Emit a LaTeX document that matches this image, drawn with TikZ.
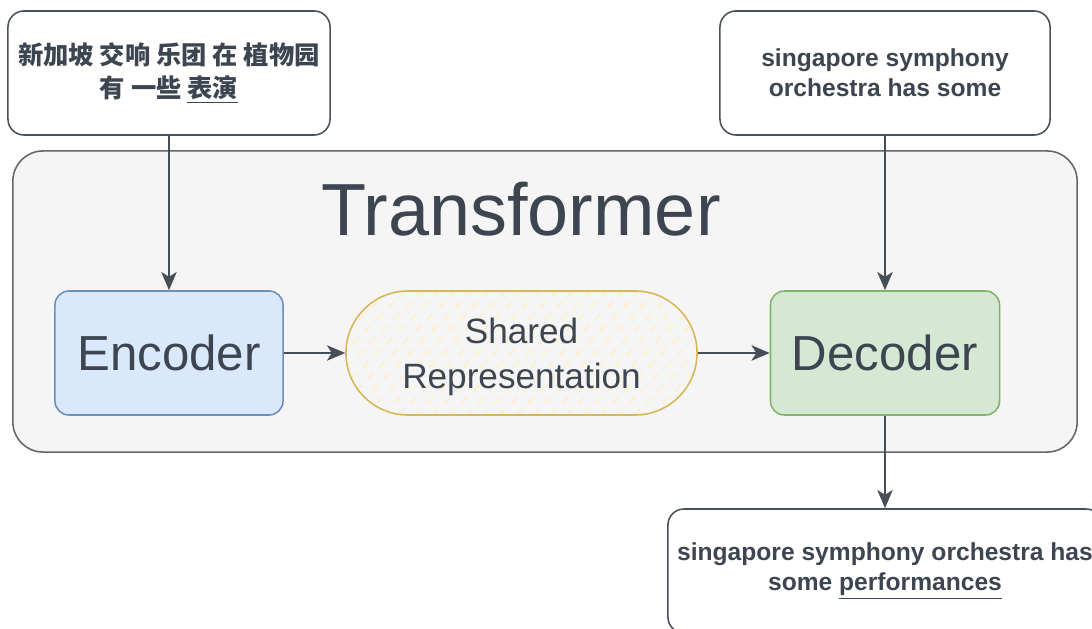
\documentclass[tikz,border=0pt]{standalone}
\usepackage{fontspec}
\setmainfont{Liberation Sans}
\newfontfamily\cjk{Noto Sans CJK SC}
\usetikzlibrary{arrows.meta}

\definecolor{ink}{HTML}{3C4550}
\definecolor{edge}{HTML}{464F58}
\definecolor{boxline}{HTML}{4A5159}
\definecolor{outerfill}{HTML}{F5F5F5}
\definecolor{outerline}{HTML}{666666}
\definecolor{encfill}{HTML}{DAE8FC}
\definecolor{encline}{HTML}{6C8EBF}
\definecolor{decfill}{HTML}{D5E8D4}
\definecolor{decline}{HTML}{82B366}
\definecolor{shline}{HTML}{D6B656}
\definecolor{hatchc}{HTML}{FFF0C4}

\begin{document}
\begin{tikzpicture}[x=0.025cm,y=-0.025cm,
	txtbox/.style={draw=boxline,line width=1.1pt,rounded corners=0.4cm,minimum height=3.1cm,align=center,text=ink,font=\fontsize{17.5}{21.3}\selectfont\bfseries},
	block/.style={line width=1.1pt,rounded corners=0.35cm,minimum width=5.7cm,minimum height=3.1cm,text=ink,font=\fontsize{35}{40}\selectfont},
	hatchfill/.style={path picture={
		\foreach \k in {0,...,30}
			\draw[hatchc,line width=1pt,dash pattern=on 6pt off 6pt] ([xshift=\k*4.2mm-3.3cm]path picture bounding box.south west) -- ++(3.4cm,3.4cm);
	}},
	link/.style={draw=edge,line width=1.1pt,-{Stealth[length=13pt,width=11pt,inset=3.5pt]}}]
	\useasboundingbox (0,0) rectangle (1092,629);
	\clip (0,0) rectangle (1092,629);

	% transformer frame
	\node[draw=outerline,fill=outerfill,line width=1.1pt,rounded corners=0.75cm,minimum width=26.6cm,minimum height=7.525cm] (frame) at (545,301.5) {};
	\node[text=ink,font=\fontsize{52.5}{60}\selectfont] (title) at (521,209) {Transformer};

	% input / output sentences
	\node[txtbox,minimum width=8.05cm,font=\cjk\fontsize{18}{23.5}\selectfont\bfseries] (src) at (169,73) {新加坡 交响 乐团 在 植物园\\有 一些 \underline{表演}};
	\node[txtbox,minimum width=8.25cm] (tgt) at (885,73) {singapore symphony\\orchestra has some};
	\node[txtbox,minimum width=10.85cm] (out) at (885,571) {singapore symphony orchestra has\\some \underline{performances}};

	% blocks
	\node[block,draw=encline,fill=encfill] (enc) at (169,353) {Encoder};
	\node[block,draw=shline,fill=outerfill,hatchfill,rounded corners=1.55cm,minimum width=8.775cm,align=center,text depth=0pt,font=\fontsize{25}{32}\selectfont] (shared) at (521.5,353) {Shared\\Representation};
	\node[block,draw=decline,fill=decfill,minimum width=5.725cm] (dec) at (885,353) {Decoder};

	\draw[link] (src.south) -- (enc.north);
	\draw[link] (enc.east) -- (shared.west);
	\draw[link] (shared.east) -- (dec.west);
	\draw[link] (tgt.south) -- (dec.north);
	\draw[link] (dec.south) -- (out.north);
\end{tikzpicture}
\end{document}
